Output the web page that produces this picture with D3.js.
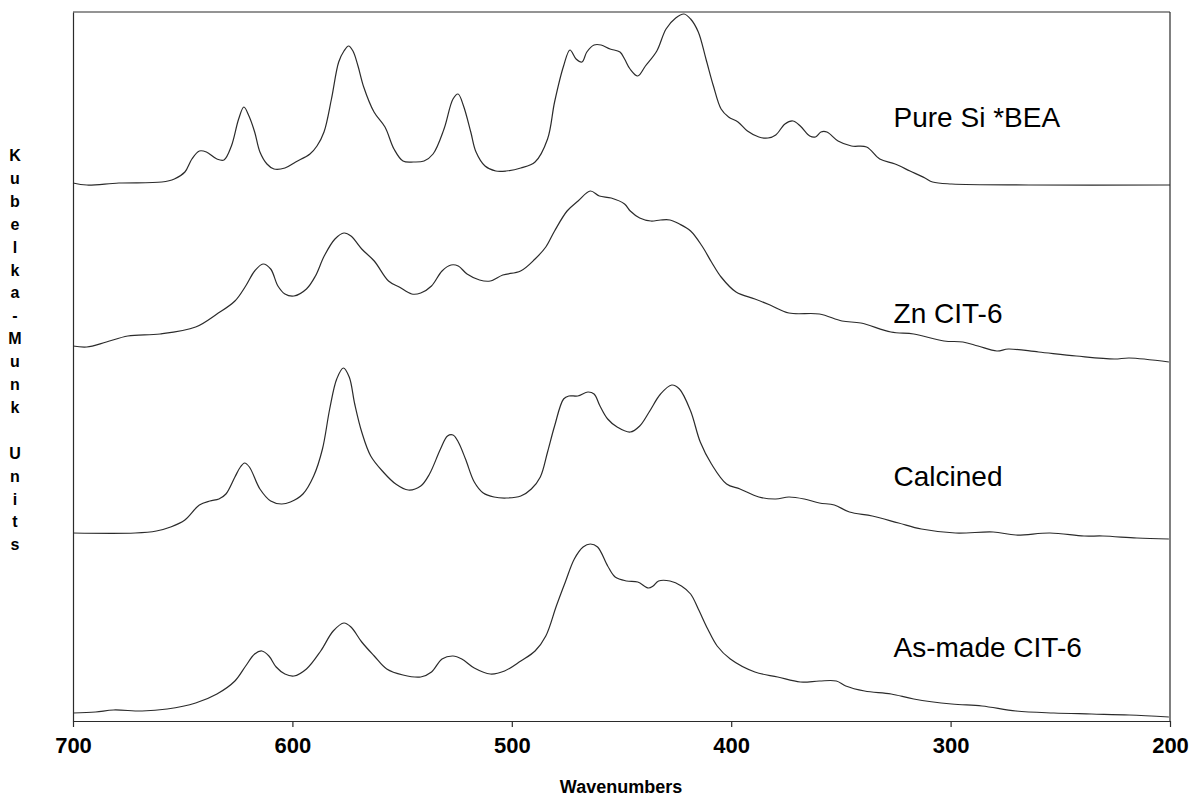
<!DOCTYPE html>
<html>
<head>
<meta charset="utf-8">
<script src="https://cdn.jsdelivr.net/npm/d3@7"></script>
<style>
  html, body { margin: 0; padding: 0; background: #fff; }
  svg { display: block; }
  text { font-family: Arial, "Liberation Sans", sans-serif; fill: #000; }
</style>
</head>
<body>
<svg id="chart" width="1193" height="798"></svg>
<script>
// Wavenumber axis ticks (cm^-1), reversed axis
const xTicks = [700, 600, 500, 400, 300, 200];

// Spectrum labels, top to bottom
const seriesNames = ["Pure Si *BEA", "Zn CIT-6", "Calcined", "As-made CIT-6"];
// Label anchor: [wavenumber, Kubelka-Munk value]
const labelPos = [[326, 5.94], [326, 3.98], [326, 2.35], [326, 0.64]];

// Spectra as [wavenumber, Kubelka-Munk units] (offset traces)
const pureSi = [
  [700,5.38],[693.7,5.36],[679.1,5.38],[659.5,5.39],[653.8,5.42],[649.0,5.49],[645.8,5.62],
  [642.4,5.70],[639.2,5.69],[634.4,5.62],[631.2,5.61],[627.8,5.75],[624.5,6.02],[622.1,6.14],
  [619.8,6.05],[617.2,5.89],[614.8,5.69],[611.6,5.57],[608.4,5.52],[603.4,5.53],[598.5,5.59],
  [592.0,5.67],[588.8,5.75],[585.6,5.89],[582.2,6.22],[578.9,6.59],[576.5,6.70],[574.4,6.75],
  [572.4,6.70],[570.1,6.55],[567.5,6.34],[562.8,6.09],[557.8,5.94],[553.7,5.72],[549.6,5.60],
  [544.8,5.59],[540.0,5.60],[535.9,5.67],[530.9,5.92],[526.8,6.22],[524.5,6.27],[522.0,6.15],
  [518.7,5.89],[516.3,5.69],[512.2,5.55],[507.3,5.50],[502.6,5.50],[495.9,5.53],[489.4,5.59],
  [483.7,5.82],[480.5,6.19],[476.4,6.55],[473.5,6.71],[470.7,6.62],[468.0,6.59],[465.8,6.69],
  [462.5,6.76],[459.3,6.76],[455.2,6.72],[450.7,6.69],[448.6,6.62],[446.1,6.52],[442.6,6.45],
  [439.1,6.55],[433.9,6.70],[429.7,6.92],[425.3,7.03],[421.5,7.07],[418.5,7.02],[415.0,6.89],
  [411.5,6.62],[408.1,6.35],[404.6,6.12],[401.2,6.04],[396.9,5.99],[392.6,5.90],[387.4,5.84],
  [383.2,5.83],[379.7,5.86],[375.5,5.97],[371.9,6.00],[368.5,5.95],[364.2,5.85],[361.6,5.84],
  [359.1,5.89],[356.4,5.89],[351.3,5.80],[345.2,5.75],[338.3,5.74],[332.3,5.62],[325.3,5.57],
  [318.5,5.50],[311.7,5.43],[308.2,5.39],[299.5,5.37],[264.3,5.36],[200,5.36]
];

const znCit6 = [
  [700,3.75],[693.7,3.74],[684.8,3.79],[675.0,3.85],[660.3,3.87],[644.1,3.94],[634.4,4.07],
  [626.2,4.20],[621.3,4.35],[617.2,4.50],[613.4,4.57],[609.9,4.52],[606.6,4.35],[603.4,4.27],
  [599.3,4.25],[593.6,4.32],[589.5,4.45],[585.5,4.65],[580.6,4.82],[576.5,4.88],[573.3,4.85],
  [568.4,4.72],[562.7,4.60],[556.2,4.40],[551.3,4.34],[545.6,4.27],[541.5,4.28],[536.6,4.35],
  [531.8,4.50],[527.7,4.56],[524.4,4.55],[520.4,4.47],[514.7,4.41],[509.8,4.40],[504.1,4.46],
  [496.0,4.50],[489.4,4.62],[484.5,4.74],[480.5,4.90],[474.8,5.10],[469.8,5.20],[464.2,5.30],
  [460.1,5.25],[454.7,5.23],[448.6,5.17],[446.0,5.10],[441.7,5.03],[436.6,5.00],[432.2,5.01],
  [427.9,5.01],[423.6,4.97],[418.5,4.90],[413.3,4.75],[409.0,4.59],[404.6,4.44],[397.8,4.29],
  [389.2,4.22],[382.3,4.16],[373.7,4.08],[359.8,4.07],[349.5,4.00],[340.9,3.98],[327.2,3.89],
  [316.8,3.87],[303.0,3.80],[294.4,3.79],[287.5,3.75],[278.9,3.70],[273.7,3.72],[259.9,3.69],
  [242.7,3.65],[225.4,3.62],[218.6,3.63],[200.5,3.59]
];

const calcined = [
  [700,1.88],[671.7,1.88],[662.0,1.90],[655.5,1.94],[649.0,2.01],[642.4,2.16],[637.6,2.20],
  [633.5,2.22],[630.3,2.27],[626.2,2.44],[623.7,2.54],[621.8,2.58],[619.6,2.54],[614.8,2.32],
  [609.9,2.20],[605.0,2.17],[600.9,2.19],[595.2,2.27],[590.3,2.45],[586.3,2.72],[583.0,3.12],
  [579.8,3.42],[576.8,3.53],[574.1,3.44],[571.6,3.17],[568.4,2.89],[564.3,2.65],[558.6,2.49],
  [552.9,2.37],[547.2,2.31],[541.5,2.35],[537.5,2.47],[532.5,2.72],[529.3,2.85],[526.8,2.86],
  [524.4,2.79],[521.1,2.62],[517.1,2.39],[513.0,2.28],[508.1,2.24],[502.5,2.23],[495.9,2.25],
  [491.1,2.32],[487.0,2.44],[483.7,2.69],[480.5,2.95],[476.4,3.22],[474.0,3.25],[469.9,3.25],
  [465.3,3.29],[462.5,3.27],[459.8,3.15],[456.3,3.02],[452.0,2.94],[446.0,2.89],[441.7,2.95],
  [437.4,3.09],[432.2,3.27],[427.1,3.36],[423.6,3.32],[418.5,3.10],[414.1,2.79],[409.0,2.57],
  [402.1,2.37],[396.0,2.32],[387.4,2.24],[379.7,2.22],[373.7,2.24],[366.7,2.22],[359.8,2.18],
  [353.0,2.16],[346.1,2.09],[335.7,2.05],[323.7,1.98],[313.3,1.92],[297.8,1.88],[280.6,1.89],
  [270.2,1.86],[254.7,1.88],[239.2,1.85],[230.6,1.85],[215.1,1.83],[200.5,1.82]
];

const asMade = [
  [700,0.08],[689.7,0.09],[681.5,0.11],[668.5,0.10],[657.1,0.12],[644.1,0.18],[634.4,0.27],
  [626.2,0.40],[621.3,0.55],[617.2,0.67],[613.9,0.70],[610.7,0.65],[607.4,0.54],[603.4,0.47],
  [599.3,0.45],[593.6,0.52],[587.1,0.70],[581.4,0.90],[576.5,0.98],[573.3,0.94],[568.4,0.79],
  [562.7,0.65],[557.0,0.52],[549.6,0.46],[541.5,0.44],[536.6,0.49],[531.8,0.62],[526.8,0.65],
  [522.8,0.62],[517.1,0.53],[509.8,0.47],[503.3,0.50],[495.9,0.60],[489.4,0.70],[484.5,0.85],
  [479.7,1.15],[475.6,1.39],[471.5,1.62],[467.5,1.74],[464.2,1.77],[460.9,1.74],[456.3,1.55],
  [452.9,1.44],[447.7,1.40],[442.6,1.39],[437.7,1.33],[435.6,1.35],[433.1,1.40],[427.9,1.40],
  [422.7,1.35],[418.5,1.27],[415.0,1.12],[410.7,0.92],[406.4,0.75],[400.4,0.62],[389.2,0.49],
  [378.8,0.44],[368.5,0.39],[359.8,0.40],[352.1,0.40],[347.8,0.35],[339.2,0.30],[327.1,0.27],
  [316.8,0.22],[299.5,0.17],[285.7,0.15],[270.2,0.10],[253.0,0.08],[235.8,0.07],[218.6,0.06],
  [200.5,0.04]
];

const spectra = [pureSi, znCit6, calcined, asMade];

const yLabelText = "Kubelka-Munk Units";
const xLabelText = "Wavenumbers";

// ---- layout ----
const svg = d3.select("#chart");
const plotLeft = 73, plotRight = 1170, plotTop = 12, plotBottom = 721;

const x = d3.scaleLinear().domain([700, 200]).range([plotLeft, plotRight]);
const y = d3.scaleLinear().domain([0, 7.09]).range([plotBottom, plotTop]);

const ink = "#2b2b2b";

// frame: top and right edges
svg.append("line").attr("x1", plotLeft).attr("x2", plotRight).attr("y1", plotTop).attr("y2", plotTop)
  .attr("stroke", ink).attr("stroke-width", 1.2);
svg.append("line").attr("x1", plotRight).attr("x2", plotRight).attr("y1", plotTop).attr("y2", plotBottom)
  .attr("stroke", ink).attr("stroke-width", 1.2);

// left axis (no ticks)
svg.append("g").attr("transform", `translate(${plotLeft},0)`)
  .call(d3.axisLeft(y).tickValues([]).tickSizeOuter(0))
  .call(g => g.select(".domain").attr("stroke", ink).attr("stroke-width", 1.2));

// bottom axis
svg.append("g").attr("transform", `translate(0,${plotBottom})`)
  .call(d3.axisBottom(x).tickValues(xTicks).tickSize(6).tickSizeOuter(0).tickPadding(10))
  .call(g => g.select(".domain").attr("stroke", ink).attr("stroke-width", 1.2))
  .call(g => g.selectAll(".tick line").attr("stroke", ink).attr("stroke-width", 1.2))
  .call(g => g.selectAll(".tick text")
    .attr("font-family", "Arial, 'Liberation Sans', sans-serif")
    .attr("font-size", 22).attr("font-weight", "bold").attr("fill", "#000"));

// spectra
const line = d3.line()
  .x(d => x(d[0]))
  .y(d => y(d[1]))
  .curve(d3.curveCatmullRom.alpha(0.5));

svg.append("g").selectAll("path")
  .data(spectra)
  .join("path")
  .attr("d", line)
  .attr("fill", "none")
  .attr("stroke", ink)
  .attr("stroke-width", 1.2)
  .attr("stroke-linejoin", "round");

// trace labels
svg.append("g").selectAll("text")
  .data(seriesNames)
  .join("text")
  .attr("x", (d, i) => x(labelPos[i][0]))
  .attr("y", (d, i) => y(labelPos[i][1]))
  .attr("font-size", 28)
  .text(d => d);

// x-axis title
svg.append("text")
  .attr("x", 621)
  .attr("y", 793)
  .attr("text-anchor", "middle")
  .attr("font-size", 18)
  .attr("font-weight", "bold")
  .text(xLabelText);

// y-axis title, one character per row
const chars = Array.from(yLabelText);
svg.append("g").selectAll("text")
  .data(chars)
  .join("text")
  .attr("x", 15)
  .attr("y", (d, i) => 161 + i * 22.9)
  .attr("text-anchor", "middle")
  .attr("font-size", 16)
  .attr("font-weight", "bold")
  .text(d => d);
</script>
</body>
</html>
